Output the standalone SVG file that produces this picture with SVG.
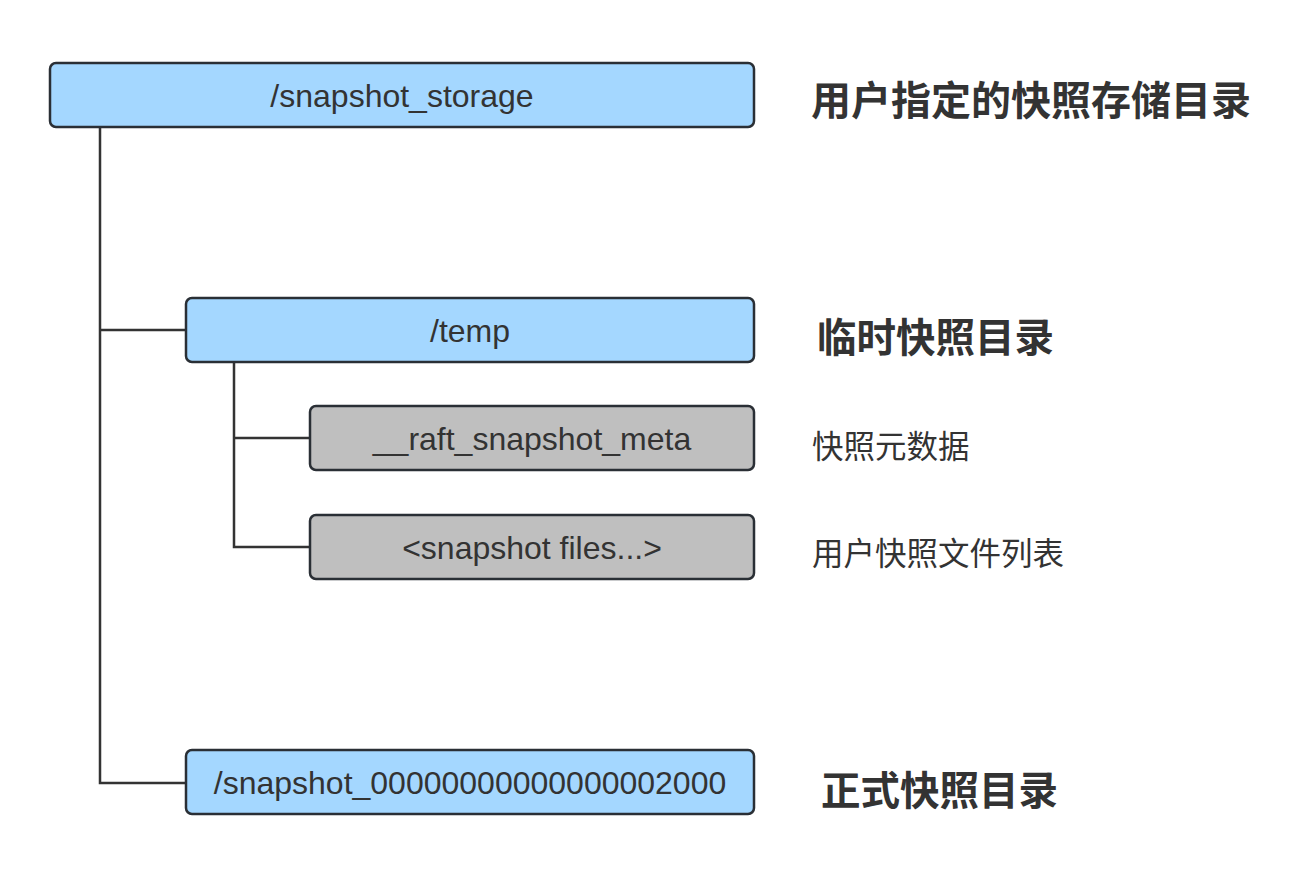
<svg xmlns="http://www.w3.org/2000/svg" width="1304" height="878" viewBox="0 0 1304 878">
<style>
.box{stroke:#2a2f35;stroke-width:2.5}
.blue{fill:#a4d7ff}
.gray{fill:#bfbfbf}
.t{font-family:"Liberation Sans",Arial,sans-serif;font-size:32px;fill:#333;text-anchor:middle}
.h{font-family:"Noto Sans CJK SC","Noto Sans",sans-serif;font-weight:bold;fill:#333;dominant-baseline:central}
.l{font-family:"Noto Sans CJK SC","Noto Sans",sans-serif;font-size:31.5px;fill:#333;dominant-baseline:central}
.c{fill:none;stroke:#333;stroke-width:2.5}
</style>
<rect width="1304" height="878" fill="#fff"/>
<g id="connectors">
<path class="c" d="M100 127V783H186M100 330H186"/>
<path class="c" d="M234 362V547H310M234 438H310"/>
</g>
<g id="snapshot_storage">
<rect class="box blue" x="50" y="63" width="704" height="64" rx="6"/>
<text class="t" x="402" y="106.5">/snapshot_storage</text>
</g>
<g id="temp">
<rect class="box blue" x="186" y="298" width="568" height="64" rx="6"/>
<text class="t" x="470" y="341.5">/temp</text>
</g>
<g id="meta">
<rect class="box gray" x="310" y="406" width="444" height="64" rx="6"/>
<text class="t" x="532" y="449.5">__raft_snapshot_meta</text>
</g>
<g id="files">
<rect class="box gray" x="310" y="515" width="444" height="64" rx="6"/>
<text class="t" x="532" y="558.5">&lt;snapshot files...&gt;</text>
</g>
<g id="snapshot_dir">
<rect class="box blue" x="186" y="750" width="568" height="64" rx="6"/>
<text class="t" x="470" y="793.5">/snapshot_00000000000000002000</text>
</g>
<g id="labels">
<text class="h" x="811" y="98" font-size="40">用户指定的快照存储目录</text>
<text class="h" x="817" y="334.5" font-size="39.5">临时快照目录</text>
<text class="l" x="812" y="444">快照元数据</text>
<text class="l" x="812" y="551">用户快照文件列表</text>
<text class="h" x="821" y="787" font-size="39.5">正式快照目录</text>
</g>
</svg>
